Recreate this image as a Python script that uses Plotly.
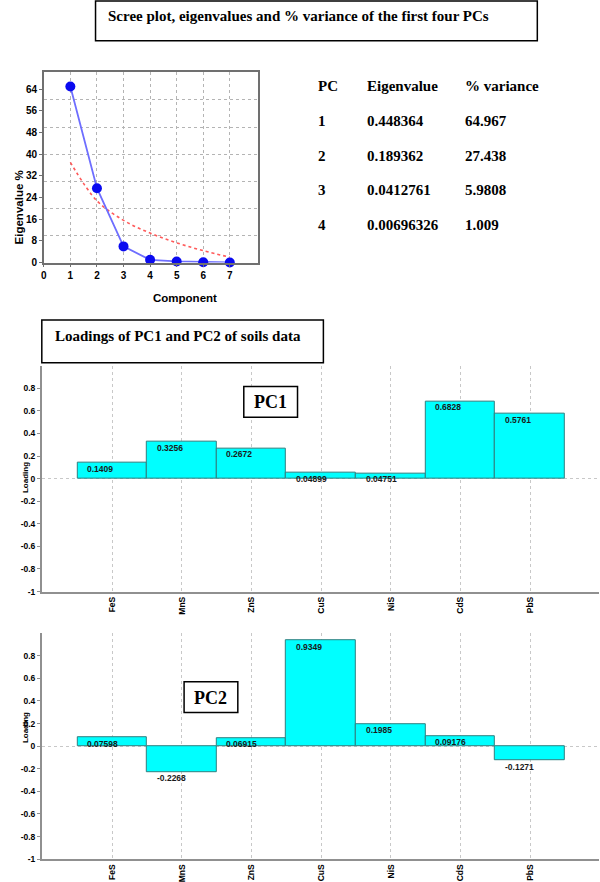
import plotly.graph_objects as go

W, H = 600, 882

# ---------------- data ----------------
components = [1, 2, 3, 4, 5, 6, 7]
eigen_pct = [64.967, 27.438, 5.9808, 1.009, 0.42, 0.15, 0.05]
broken_stick = [37.0, 22.8, 15.6, 10.9, 7.3, 4.4, 2.0]

table_pc = ["1", "2", "3", "4"]
table_eigen = ["0.448364", "0.189362", "0.0412761", "0.00696326"]
table_var = ["64.967", "27.438", "5.9808", "1.009"]

minerals = ["FeS", "MnS", "ZnS", "CuS", "NiS", "CdS", "PbS"]
pc1_loadings = [0.1409, 0.3256, 0.2672, 0.04899, 0.04751, 0.6828, 0.5761]
pc2_loadings = [0.07598, -0.2268, 0.06915, 0.9349, 0.1985, 0.09176, -0.1271]
pc1_labels = ["0.1409", "0.3256", "0.2672", "0.04899", "0.04751", "0.6828", "0.5761"]
pc2_labels = ["0.07598", "-0.2268", "0.06915", "0.9349", "0.1985", "0.09176", "-0.1271"]

loading_ticks = [-1, -0.8, -0.6, -0.4, -0.2, 0, 0.2, 0.4, 0.6, 0.8]
loading_ticktext = ["-1", "-0.8", "-0.6", "-0.4", "-0.2", "0", "0.2", "0.4", "0.6", "0.8"]

SANS = "Liberation Sans, Arial, sans-serif"
SERIF = "Liberation Serif, Times New Roman, serif"


def px_x(p):
    return p / W


def px_y(p):
    return 1 - p / H


fig = go.Figure()

# ---------------- scree plot ----------------
fig.add_trace(go.Scatter(
    x=components, y=broken_stick, mode="lines",
    line=dict(color="#ff5a5a", width=1.6, dash="dot", shape="spline"),
    xaxis="x", yaxis="y", showlegend=False, cliponaxis=False))
fig.add_trace(go.Scatter(
    x=components, y=eigen_pct, mode="lines+markers",
    line=dict(color="#6e6eff", width=1.8),
    marker=dict(color="#0a0af0", size=10),
    xaxis="x", yaxis="y", showlegend=False, cliponaxis=False))
# invisible carrier so the secondary (grid-only) axis is drawn
fig.add_trace(go.Scatter(x=components, y=eigen_pct, mode="lines", opacity=0,
                         line=dict(width=0), hoverinfo="skip",
                         xaxis="x", yaxis="y2", showlegend=False))

# ---------------- loadings bars ----------------
bar_style = dict(marker=dict(color="#00ffff", line=dict(color="#2f7f7f", width=1)),
                 width=1.0, showlegend=False, hoverinfo="x+y")
fig.add_trace(go.Bar(x=minerals, y=pc1_loadings, xaxis="x2", yaxis="y3", **bar_style))
fig.add_trace(go.Bar(x=minerals, y=pc2_loadings, xaxis="x3", yaxis="y5", **bar_style))
for xa, ya, vals in (("x2", "y4", pc1_loadings), ("x3", "y6", pc2_loadings)):
    fig.add_trace(go.Scatter(x=minerals, y=vals, mode="lines", opacity=0,
                             line=dict(width=0), hoverinfo="skip",
                             xaxis=xa, yaxis=ya, showlegend=False))

annotations = []
for xa, ya, vals, labs in (("x2", "y3", pc1_loadings, pc1_labels),
                           ("x3", "y5", pc2_loadings, pc2_labels)):
    for m, v, t in zip(minerals, vals, labs):
        annotations.append(dict(
            x=m, y=v, xref=xa, yref=ya, text="<b>" + t + "</b>", showarrow=False,
            xanchor="left", yanchor="top", xshift=-27, yshift=1,
            font=dict(family=SANS, size=8.5, color="#1a1a1a")))

# ---------------- table ----------------
cols_x = [315, 364, 462]
header = ["PC", "Eigenvalue", "% variance"]
for cx, h in zip(cols_x, header):
    annotations.append(dict(x=px_x(cx), y=px_y(87), xref="paper", yref="paper",
                            text="<b>" + h + "</b>", showarrow=False,
                            xanchor="left", yanchor="middle",
                            font=dict(family=SERIF, size=15, color="black")))
row_y = [122, 157, 192, 227]
for ry, a, b, c in zip(row_y, table_pc, table_eigen, table_var):
    for cx, t in zip(cols_x, (a, b, c)):
        annotations.append(dict(x=px_x(cx), y=px_y(ry), xref="paper", yref="paper",
                                text="<b>" + t + "</b>", showarrow=False,
                                xanchor="left", yanchor="middle",
                                font=dict(family=SERIF, size=15, color="black")))

# ---------------- boxed titles ----------------
shapes = []


def boxed(x0, y0, x1, y1, text, tx, ty, size, anchor="left"):
    shapes.append(dict(type="rect", xref="paper", yref="paper",
                       x0=px_x(x0), x1=px_x(x1), y0=px_y(y1), y1=px_y(y0),
                       line=dict(color="black", width=1.5), fillcolor="white", layer="above"))
    annotations.append(dict(x=px_x(tx), y=px_y(ty), xref="paper", yref="paper",
                            text="<b>" + text + "</b>", showarrow=False,
                            xanchor=anchor, yanchor="middle",
                            font=dict(family=SERIF, size=size, color="black")))


boxed(93, 1, 537, 41, "Scree plot, eigenvalues and % variance of the first four PCs", 104, 16, 15)
boxed(39, 323, 322, 366, "Loadings of PC1 and PC2 of soils data", 50, 339, 15)
boxed(242, 390, 296, 421, "PC1", 269, 406, 18, anchor="center")
boxed(182, 688, 236, 719, "PC2", 209, 704, 18, anchor="center")

# axis titles as annotations
annotations.append(dict(x=px_x(8), y=px_y(170), xref="paper", yref="paper",
                        text="<b>Eigenvalue %</b>", textangle=-90, showarrow=False,
                        font=dict(family=SANS, size=11.5, color="black")))
annotations.append(dict(x=px_x(149), y=px_y(293), xref="paper", yref="paper",
                        text="<b>Component</b>", showarrow=False,
                        font=dict(family=SANS, size=11.5, color="black")))
for cy in (482, 752):
    annotations.append(dict(x=px_x(16), y=px_y(cy), xref="paper", yref="paper",
                            text="<b>Loading</b>", textangle=-90, showarrow=False,
                            font=dict(family=SANS, size=8, color="black")))

grid_dot = dict(showgrid=True, gridcolor="#b4b4b4", griddash="dot", gridwidth=1)
light_grid = dict(showgrid=True, gridcolor="#c8c8c8", griddash="dot", gridwidth=1)
tick_font_s = dict(family=SANS, size=10, color="black", weight="bold")
tick_font_l = dict(family=SANS, size=8.5, color="black", weight="bold")

layout = dict(
    width=W, height=H, margin=dict(l=0, r=0, t=0, b=0),
    paper_bgcolor="white", plot_bgcolor="white",
    showlegend=False, bargap=0,
    annotations=annotations, shapes=shapes,
    # scree
    xaxis=dict(domain=[px_x(41), px_x(256)], range=[0, 8.05], tickvals=list(range(0, 8)),
               anchor="y", showline=True, mirror=True, linecolor="#707070", linewidth=1.5,
               ticks="outside", ticklen=3, tickcolor="#707070", tickfont=tick_font_s,
               zeroline=False, **grid_dot),
    yaxis=dict(domain=[px_y(265), px_y(73)], range=[0, 70.2],
               tickvals=[0, 8, 16, 24, 32, 40, 48, 56, 64], anchor="x",
               showline=True, mirror=True, linecolor="#707070", linewidth=1.5,
               ticks="outside", ticklen=3, tickcolor="#707070", tickfont=tick_font_s,
               showgrid=False, zeroline=False),
    yaxis2=dict(overlaying="y", anchor="x", range=[0, 70.2], tickvals=[10, 20, 30, 40, 50, 60],
                showticklabels=False, ticks="", zeroline=False, showline=False, **grid_dot),
    # PC1
    xaxis2=dict(domain=[px_x(39), px_x(599)], range=[-1.01, 6.99], anchor="y3",
                type="category", showline=True, linecolor="#909090", linewidth=1.5,
                ticks="", tickangle=-90, tickfont=tick_font_l, zeroline=False, **light_grid),
    yaxis3=dict(domain=[px_y(597), px_y(369)], range=[-1, 1], anchor="x2",
                tickvals=loading_ticks, ticktext=loading_ticktext,
                showline=True, linecolor="#909090", linewidth=1.5,
                ticks="outside", ticklen=3, tickcolor="#909090", tickfont=tick_font_l,
                showgrid=False, zeroline=False),
    yaxis4=dict(overlaying="y3", anchor="x2", range=[-1, 1], tickvals=[0, 1],
                showticklabels=False, ticks="", zeroline=False, showline=False, **light_grid),
    # PC2
    xaxis3=dict(domain=[px_x(39), px_x(599)], range=[-1.01, 6.99], anchor="y5",
                type="category", showline=True, linecolor="#909090", linewidth=1.5,
                ticks="", tickangle=-90, tickfont=tick_font_l, zeroline=False, **light_grid),
    yaxis5=dict(domain=[px_y(867), px_y(639)], range=[-1, 1], anchor="x3",
                tickvals=loading_ticks, ticktext=loading_ticktext,
                showline=True, linecolor="#909090", linewidth=1.5,
                ticks="outside", ticklen=3, tickcolor="#909090", tickfont=tick_font_l,
                showgrid=False, zeroline=False),
    yaxis6=dict(overlaying="y5", anchor="x3", range=[-1, 1], tickvals=[0, 1],
                showticklabels=False, ticks="", zeroline=False, showline=False, **light_grid),
)
fig.update_layout(**layout)

fig.write_html(
    "out.html",
    config={"displayModeBar": False},
    post_script=(
        "var de=document.documentElement,b=document.body;"
        "de.style.margin='0';de.style.padding='0';de.style.overflow='hidden';"
        "b.style.margin='0';b.style.padding='0';b.style.overflow='hidden';"
    ),
)
